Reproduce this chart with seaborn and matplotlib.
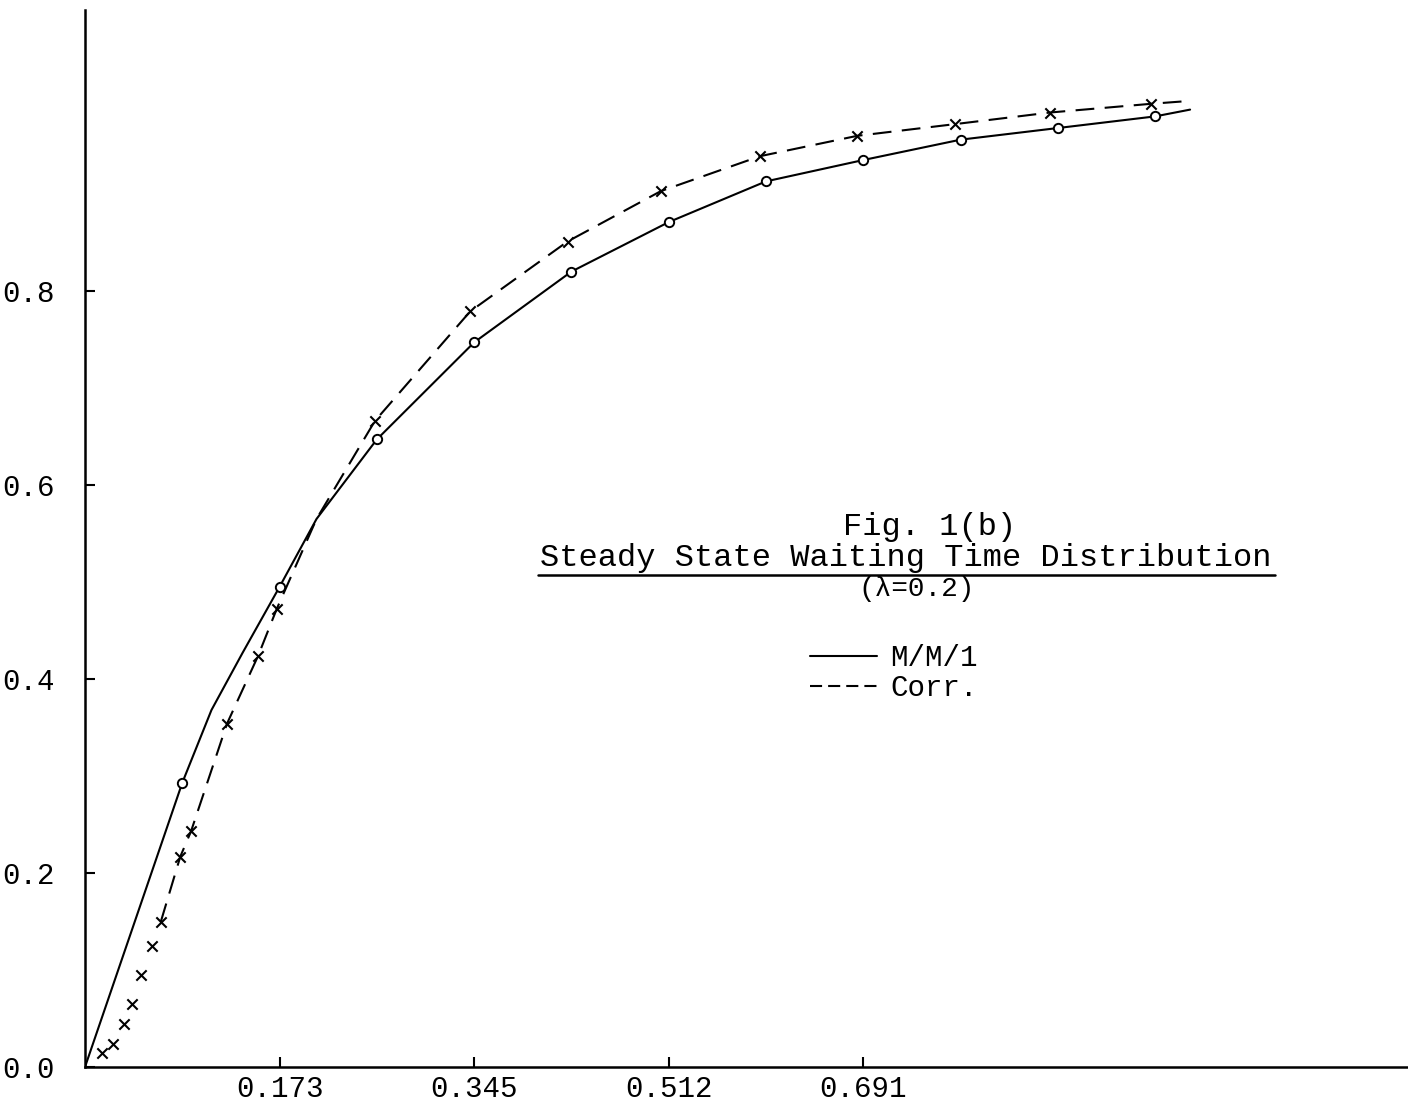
import numpy as np
import pandas as pd
import matplotlib
matplotlib.use("Agg")
import matplotlib.pyplot as plt
import seaborn as sns

# ---- data (x in units of the x-tick spacing) ----
mm1_x = [0.0, 0.5, 0.65, 0.81, 1.0, 1.19, 1.5, 2.0, 2.5, 3.0, 3.5, 4.0, 4.5, 5.0, 5.5, 5.68]
mm1_y = [0.0, 0.293, 0.368, 0.427, 0.495, 0.565, 0.647, 0.747, 0.820, 0.871, 0.913, 0.935, 0.956, 0.968, 0.980, 0.987]
mm1_marker_x = [0.5, 1.0, 1.5, 2.0, 2.5, 3.0, 3.5, 4.0, 4.5, 5.0, 5.5]
mm1_marker_y = [0.293, 0.495, 0.647, 0.747, 0.820, 0.871, 0.913, 0.935, 0.956, 0.968, 0.980]

corr_marker_x = [0.089, 0.146, 0.20, 0.244, 0.29, 0.346, 0.39, 0.49, 0.545, 0.73, 0.89, 0.986,
                 1.49, 1.98, 2.48, 2.96, 3.47, 3.97, 4.47, 4.96, 5.48]
corr_marker_y = [0.0145, 0.024, 0.044, 0.065, 0.095, 0.125, 0.150, 0.217, 0.243, 0.354, 0.424, 0.4725,
                 0.666, 0.779, 0.851, 0.903, 0.939, 0.960, 0.972, 0.984, 0.993]
corr_line_x = [0.39, 0.49, 0.545, 0.73, 0.89, 0.986, 1.19, 1.49, 1.98, 2.48, 2.96, 3.47, 3.97, 4.47, 4.96, 5.48, 5.68]
corr_line_y = [0.150, 0.217, 0.243, 0.354, 0.424, 0.4725, 0.565, 0.666, 0.779, 0.851, 0.903, 0.939, 0.960, 0.972, 0.984, 0.993, 0.996]

xtick_pos = [1, 2, 3, 4]
xtick_labels = ["0.173", "0.345", "0.512", "0.691"]
ytick_pos = [0.0, 0.2, 0.4, 0.6, 0.8]
ytick_labels = ["0.0", "0.2", "0.4", "0.6", "0.8"]

sns.set_style("ticks")
plt.rcParams['font.family'] = ['Liberation Mono', 'DejaVu Sans Mono']
plt.rcParams['text.color'] = 'black'
plt.rcParams['xtick.color'] = 'black'
plt.rcParams['ytick.color'] = 'black'
plt.rcParams['axes.edgecolor'] = 'black'

W, H = 1408, 1110
fig = plt.figure(figsize=(W / 100, H / 100), dpi=100)
ax = fig.add_axes([85 / W, 1 - 1067 / H, 1 - 85 / W, (1067 - 10) / H])

lw = 1.5
sns.lineplot(x=mm1_x, y=mm1_y, ax=ax, color="black", linewidth=lw, label="M/M/1",
             sort=False, estimator=None)
sns.lineplot(x=corr_line_x, y=corr_line_y, ax=ax, color="black", linewidth=lw, label="Corr.",
             sort=False, estimator=None)
ax.lines[-1].set_linestyle((0, (9, 5)))
sns.scatterplot(x=mm1_marker_x, y=mm1_marker_y, ax=ax, marker="o", s=45,
                facecolor="white", edgecolor="black", linewidth=1.4, zorder=5, legend=False)
sns.scatterplot(x=corr_marker_x, y=corr_marker_y, ax=ax, marker="x", s=55,
                color="black", linewidth=1.5, zorder=5, legend=False)

ax.set_xlim(0, 6.8)
ax.set_ylim(0, (1067 - 10) / 970)
ax.set_xticks(xtick_pos)
ax.set_xticklabels(xtick_labels)
ax.set_yticks(ytick_pos)
ax.set_yticklabels(ytick_labels)
ax.tick_params(direction="in", length=7, width=1.5, labelsize=21, colors="black")
ax.tick_params(axis="x", pad=6)
ax.tick_params(axis="y", pad=22)
for s in ["top", "right"]:
    ax.spines[s].set_visible(False)
for s in ["left", "bottom"]:
    ax.spines[s].set_linewidth(1.8)
    ax.spines[s].set_color("black")
ax.set_xlabel("")
ax.set_ylabel("")

leg = ax.legend(loc="center left", bbox_to_anchor=(810 / W, 1 - 673 / H),
                bbox_transform=fig.transFigure, frameon=False, fontsize=21,
                handlelength=2.3, handletextpad=0.45, labelspacing=0.05,
                borderpad=0, borderaxespad=0)
for t in leg.get_texts():
    t.set_color("black")
leg.get_lines()[1].set_linestyle((0, (5.8, 2.9)))

fig.text(930 / W, 1 - 527 / H, "Fig. 1(b)", ha="center", va="center", fontsize=23, color="black")
fig.text(906 / W, 1 - 558 / H, "Steady State Waiting Time Distribution", ha="center",
         va="center", fontsize=23, color="black")
fig.add_artist(plt.Line2D([538 / W, 1275 / W], [1 - 575 / H, 1 - 575 / H],
                          transform=fig.transFigure, color="black", linewidth=1.8))
fig.text(917 / W, 1 - 589 / H, "(λ=0.2)", ha="center", va="center", fontsize=20, color="black")

fig.savefig("out.png", dpi=100)
